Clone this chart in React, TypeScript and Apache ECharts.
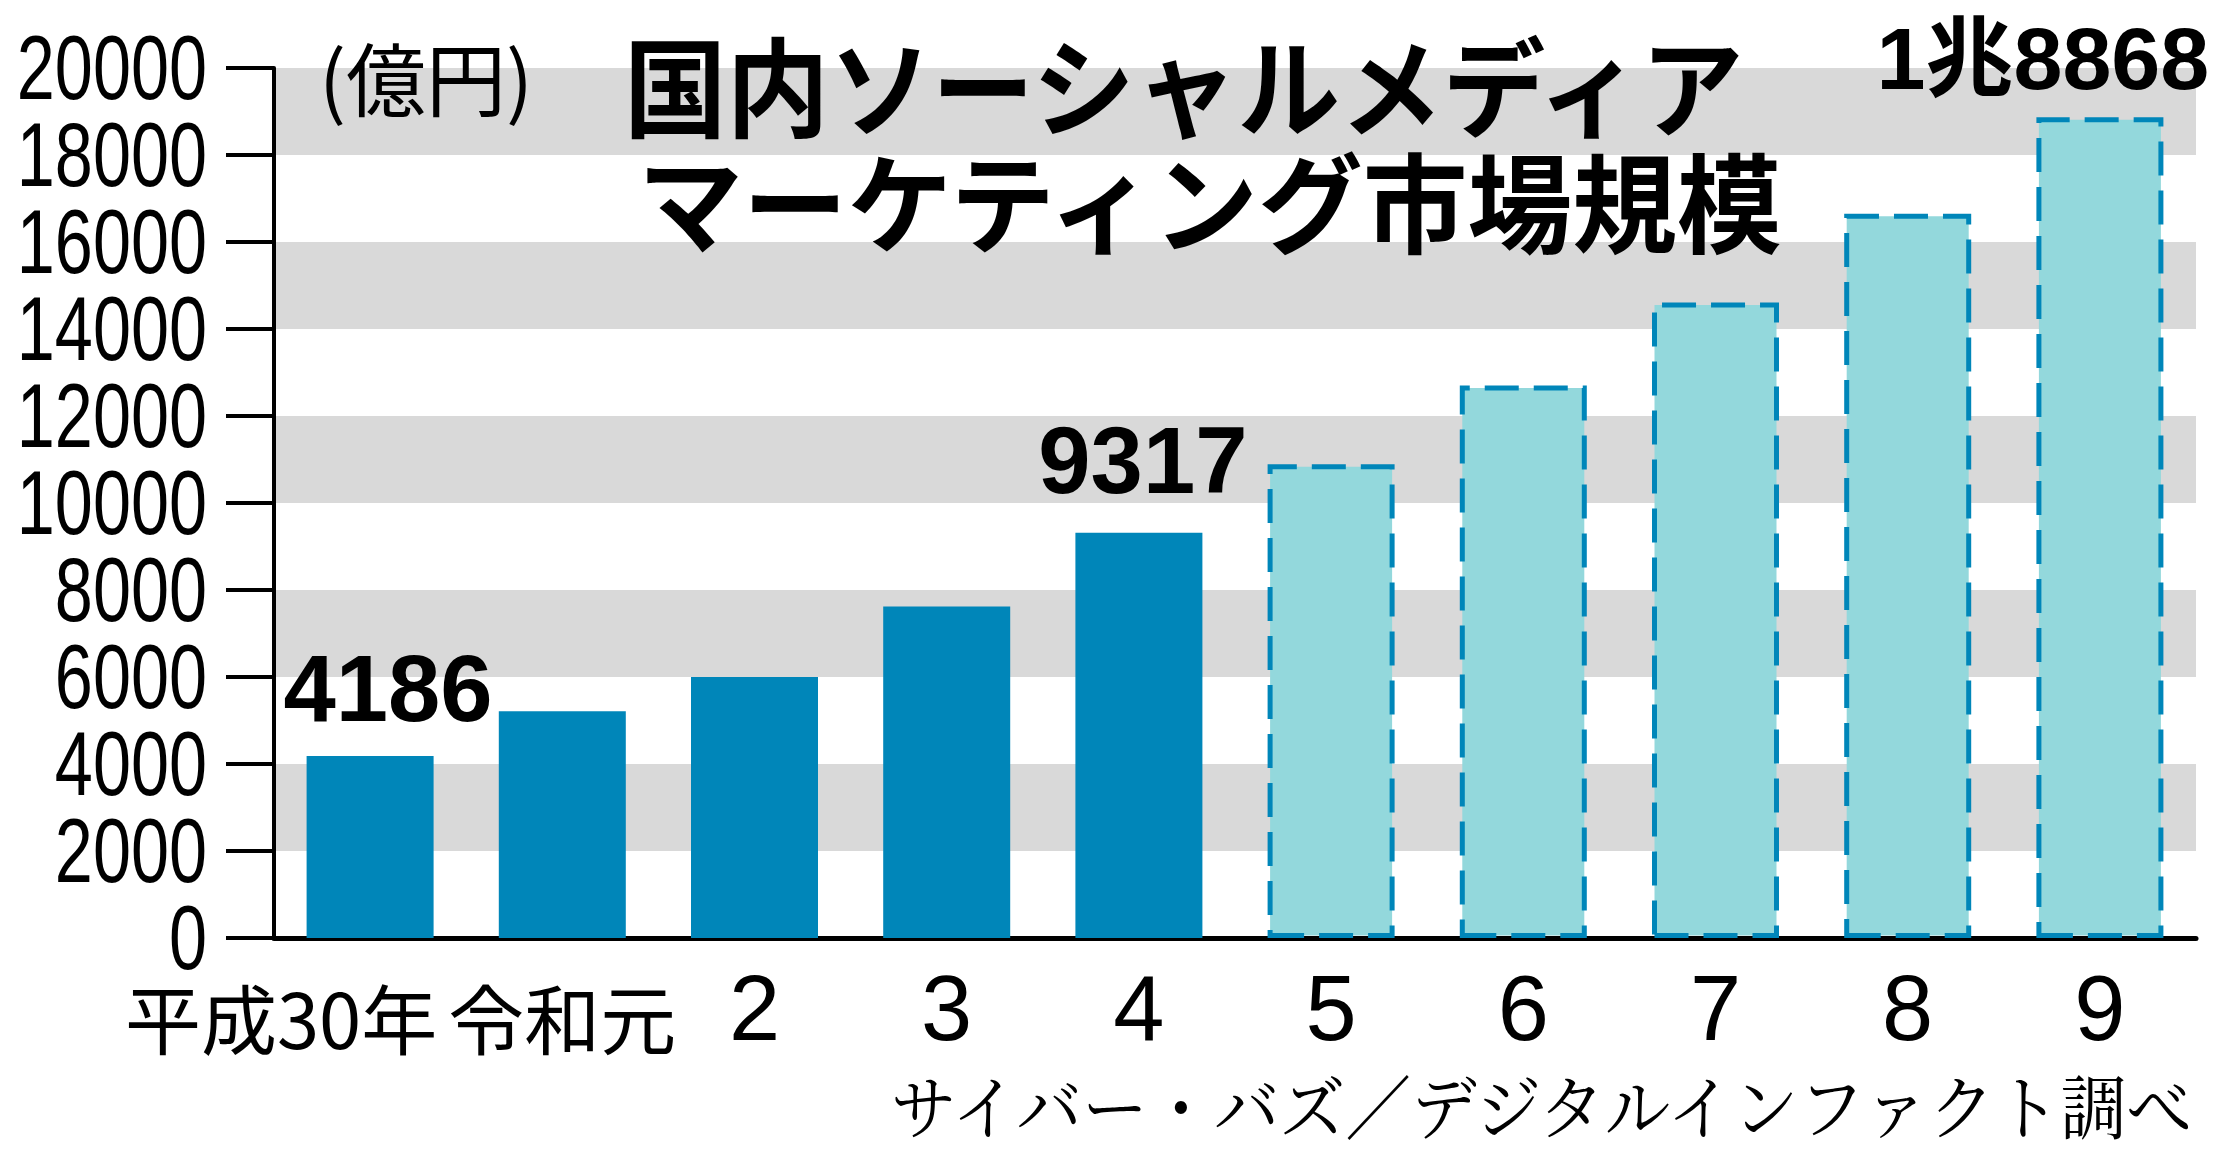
import React, { useEffect, useRef } from 'react';
import * as echarts from 'echarts';

const categories = ['平成30年', '令和元', '2', '3', '4', '5', '6', '7', '8', '9'];
const actualValues = [4186, 5210, 6000, 7620, 9317];
const forecastValues = [10890, 12700, 14610, 16650, 18868];
const valueLabels = ['4186', '', '', '', '9317', '', '', '', '', '1兆8868'];
const yTickValues = [0, 2000, 4000, 6000, 8000, 10000, 12000, 14000, 16000, 18000, 20000];
const yTickLabels = ['0', '2000', '4000', '6000', '8000', '10000', '12000', '14000', '16000', '18000', '20000'];
const titleLines = ['国内ソーシャルメディア', 'マーケティング市場規模'];
const unitText = '(億円)';
const sourceText = 'サイバー・バズ／デジタルインファクト調べ';

const SANS = "'Liberation Sans', Arial, 'Noto Sans CJK JP', sans-serif";
const CJK = "'Noto Sans CJK JP', sans-serif";
const SERIF = "'Noto Serif CJK JP', 'Noto Sans CJK JP', serif";
const SOLID = '#0086b9';
const LIGHT = '#93d8dc';
const GRAY = '#d9d9d9';

export default function App() {
  const ref = useRef<HTMLDivElement>(null);

  useEffect(() => {
    const chart = echarts.init(ref.current as HTMLDivElement, null, { renderer: 'svg' });
    const labelOffsets: Record<number, number[]> = { 0: [18, 0], 4: [4, -5], 9: [-57, 5] };
    const labelSizes: Record<number, number> = { 0: 94, 4: 94, 9: 88 };

    const allValues = [...actualValues, ...forecastValues];
    const data = allValues.map((v, i) => {
      const isForecast = i >= actualValues.length;
      const text = valueLabels[i];
      return {
        value: v,
        itemStyle: isForecast
          ? { color: LIGHT, borderColor: SOLID, borderWidth: 5, borderType: [34, 15] }
          : { color: SOLID },
        label: text
          ? {
              show: true,
              position: 'top',
              distance: 20,
              formatter: text,
              offset: labelOffsets[i] || [0, 0],
              fontSize: labelSizes[i] || 94,
              fontWeight: 'bold',
              fontFamily: SANS,
              color: '#000',
            }
          : { show: false },
      };
    });

    chart.setOption({
      animation: false,
      backgroundColor: '#ffffff',
      grid: {
        left: 274,
        right: 22,
        top: 68,
        bottom: 220,
        containLabel: false,
        outerBoundsMode: 'none',
      },
      xAxis: {
        type: 'category',
        data: categories,
        axisLine: { show: true, lineStyle: { color: '#000', width: 5 } },
        axisTick: { show: false },
        axisLabel: {
          interval: 0,
          margin: 24,
          fontSize: 92,
          fontFamily: SANS,
          color: '#000',
          formatter: (v: string, i: number) => {
            if (i === 0) return '{f|' + v + '}';
            if (i === 1) return '{g|' + v + '}';
            return v;
          },
          rich: {
            f: { fontSize: 76, fontFamily: CJK, color: '#000', padding: [16, 178, 0, 0] },
            g: { fontSize: 76, fontFamily: CJK, color: '#000', padding: [16, 0, 0, 0] },
          },
        },
        splitLine: { show: false },
      },
      yAxis: {
        type: 'value',
        min: 0,
        max: 20000,
        interval: 2000,
        axisLine: { show: true, lineStyle: { color: '#000', width: 4 } },
        axisTick: { show: true, length: 48, lineStyle: { color: '#000', width: 4 } },
        axisLabel: { show: false },
        splitLine: { show: false },
        splitArea: { show: true, areaStyle: { color: ['rgba(255,255,255,0)', GRAY] } },
      },
      series: [
        {
          type: 'bar',
          barWidth: 127,
          data,
          z: 3,
        },
      ],
    });

    const yLabelGraphics = yTickValues.map((v, i) => ({
      type: 'text',
      x: 207,
      y: chart.convertToPixel({ yAxisIndex: 0 }, v) as number,
      scaleX: 0.76,
      z: 100,
      style: {
        text: yTickLabels[i],
        fontSize: 90,
        fontFamily: SANS,
        fill: '#000',
        align: 'right',
        verticalAlign: 'middle',
      },
    }));

    chart.setOption({
      graphic: [
        {
          type: 'text',
          x: 624,
          y: 82,
          scaleX: 0.95,
          z: 100,
          style: {
            text: titleLines[0],
            fontSize: 108,
            fontWeight: 'bold',
            fontFamily: CJK,
            fill: '#000',
            align: 'left',
            verticalAlign: 'middle',
          },
        },
        {
          type: 'text',
          x: 638,
          y: 198,
          scaleX: 0.97,
          z: 100,
          style: {
            text: titleLines[1],
            fontSize: 108,
            fontWeight: 'bold',
            fontFamily: CJK,
            fill: '#000',
            align: 'left',
            verticalAlign: 'middle',
          },
        },
        {
          type: 'text',
          x: 426,
          y: 75,
          z: 100,
          style: {
            text: unitText,
            fontSize: 80,
            fontFamily: CJK,
            fill: '#000',
            align: 'center',
            verticalAlign: 'middle',
          },
        },
        {
          type: 'text',
          x: 2192,
          y: 1104,
          scaleX: 0.94,
          z: 100,
          style: {
            text: sourceText,
            fontSize: 70,
            fontFamily: SERIF,
            fill: '#000',
            align: 'right',
            verticalAlign: 'middle',
          },
        },
        ...yLabelGraphics,
      ],
    });

    return () => {
      chart.dispose();
    };
  }, []);

  return (
    <div
      ref={ref}
      style={{ position: 'absolute', left: 0, top: 0, width: 2218, height: 1158, background: '#fff' }}
    />
  );
}
